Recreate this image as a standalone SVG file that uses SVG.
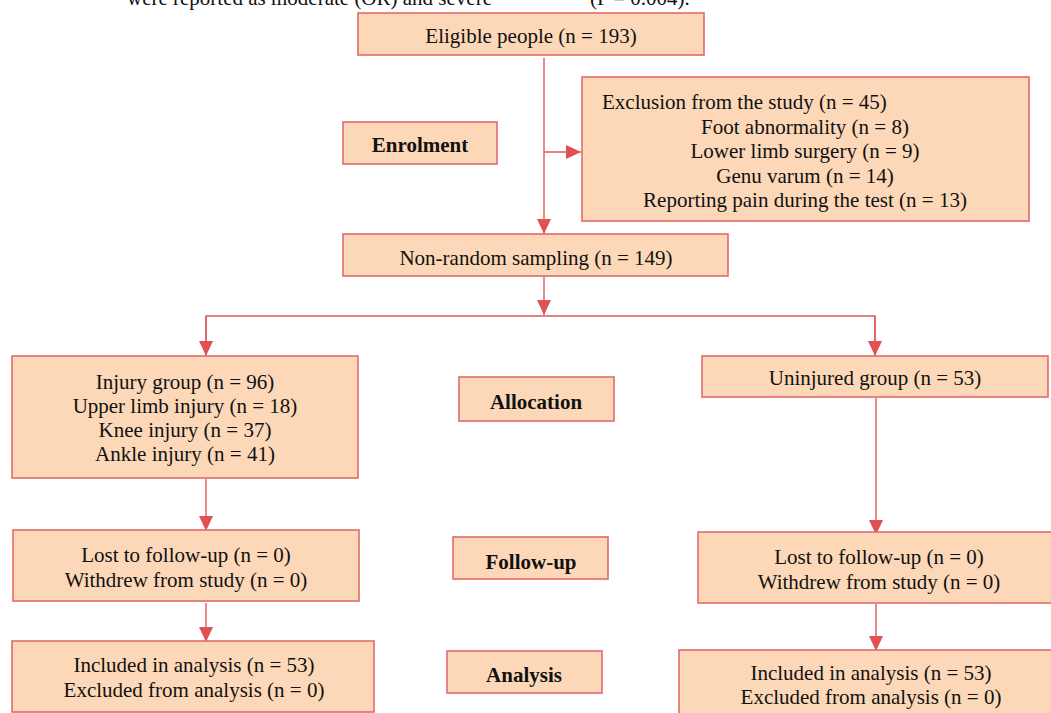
<svg xmlns="http://www.w3.org/2000/svg" width="1051" height="713" viewBox="0 0 1051 713">
<style>
.box{fill:#FCD8B8;stroke:#E06B6B;stroke-width:1.6}
.t{font-family:"Liberation Serif","Times New Roman",serif;font-size:21px;fill:#111;text-anchor:middle}
.b{font-weight:bold}
.l{text-anchor:start}
.c{fill:none;stroke:#E05A5A;stroke-width:1.4}
</style>
<defs>
<marker id="ah" viewBox="0 0 15 14" refX="15" refY="7" markerWidth="15" markerHeight="14" markerUnits="userSpaceOnUse" orient="auto">
<path d="M0,0 L15,7 L0,14 Z" fill="#E05252"/>
</marker>
</defs>
<rect width="1051" height="713" fill="#fff"/>
<text class="t" x="492" y="5" style="text-anchor:end">were reported as moderate (OR) and severe</text>
<text class="t l" x="590" y="5">(P = 0.004).</text>
<g id="connectors">
<line class="c" x1="544" y1="58" x2="544" y2="234" marker-end="url(#ah)"/>
<line class="c" x1="544" y1="152" x2="581" y2="152" marker-end="url(#ah)"/>
<line class="c" x1="544" y1="276" x2="544" y2="315" marker-end="url(#ah)"/>
<polyline class="c" points="206,356 206,316 875,316 875,356"/>
<line class="c" x1="206" y1="316" x2="206" y2="356" marker-end="url(#ah)"/>
<line class="c" x1="875" y1="316" x2="875" y2="356" marker-end="url(#ah)"/>
<line class="c" x1="206" y1="479" x2="206" y2="531" marker-end="url(#ah)"/>
<line class="c" x1="206" y1="603" x2="206" y2="642" marker-end="url(#ah)"/>
<line class="c" x1="876" y1="398" x2="876" y2="535" marker-end="url(#ah)"/>
<line class="c" x1="876" y1="604" x2="876" y2="651" marker-end="url(#ah)"/>
</g>
<g id="eligible">
<rect class="box" x="358" y="13" width="346" height="42"/>
<text class="t" x="531" y="43">Eligible people (n = 193)</text>
</g>
<g id="enrolment">
<rect class="box" x="343" y="122" width="154" height="42"/>
<text class="t b" x="420" y="152">Enrolment</text>
</g>
<g id="exclusion">
<rect class="box" x="582" y="77" width="447" height="144"/>
<text class="t l" x="602" y="109">Exclusion from the study (n = 45)</text>
<text class="t" x="805" y="134">Foot abnormality (n = 8)</text>
<text class="t" x="805" y="158">Lower limb surgery (n = 9)</text>
<text class="t" x="805" y="183">Genu varum (n = 14)</text>
<text class="t" x="805" y="207">Reporting pain during the test (n = 13)</text>
</g>
<g id="sampling">
<rect class="box" x="343" y="234" width="385" height="42"/>
<text class="t" x="536" y="265">Non-random sampling (n = 149)</text>
</g>
<g id="injury">
<rect class="box" x="12" y="356" width="346" height="122"/>
<text class="t" x="185" y="389">Injury group (n = 96)</text>
<text class="t" x="185" y="413">Upper limb injury (n = 18)</text>
<text class="t" x="185" y="437">Knee injury (n = 37)</text>
<text class="t" x="185" y="461">Ankle injury (n = 41)</text>
</g>
<g id="allocation">
<rect class="box" x="459" y="377" width="155" height="44"/>
<text class="t b" x="536" y="409">Allocation</text>
</g>
<g id="uninjured">
<rect class="box" x="702" y="356" width="346" height="41"/>
<text class="t" x="875" y="385">Uninjured group (n = 53)</text>
</g>
<g id="followup-left">
<rect class="box" x="13" y="530" width="346" height="71"/>
<text class="t" x="186" y="562">Lost to follow-up (n = 0)</text>
<text class="t" x="186" y="587">Withdrew from study (n = 0)</text>
</g>
<g id="followup-label">
<rect class="box" x="453" y="537" width="155" height="42"/>
<text class="t b" x="531" y="569">Follow-up</text>
</g>
<g id="followup-right">
<rect class="box" x="698" y="532" width="360" height="71"/>
<text class="t" x="879" y="564">Lost to follow-up (n = 0)</text>
<text class="t" x="879" y="589">Withdrew from study (n = 0)</text>
</g>
<g id="analysis-left">
<rect class="box" x="12" y="641" width="362" height="71"/>
<text class="t" x="194" y="672">Included in analysis (n = 53)</text>
<text class="t" x="194" y="697">Excluded from analysis (n = 0)</text>
</g>
<g id="analysis-label">
<rect class="box" x="447" y="651" width="155" height="42"/>
<text class="t b" x="524" y="682">Analysis</text>
</g>
<g id="analysis-right">
<rect class="box" x="679" y="650" width="380" height="70"/>
<text class="t" x="871" y="680">Included in analysis (n = 53)</text>
<text class="t" x="871" y="704">Excluded from analysis (n = 0)</text>
</g>
</svg>
